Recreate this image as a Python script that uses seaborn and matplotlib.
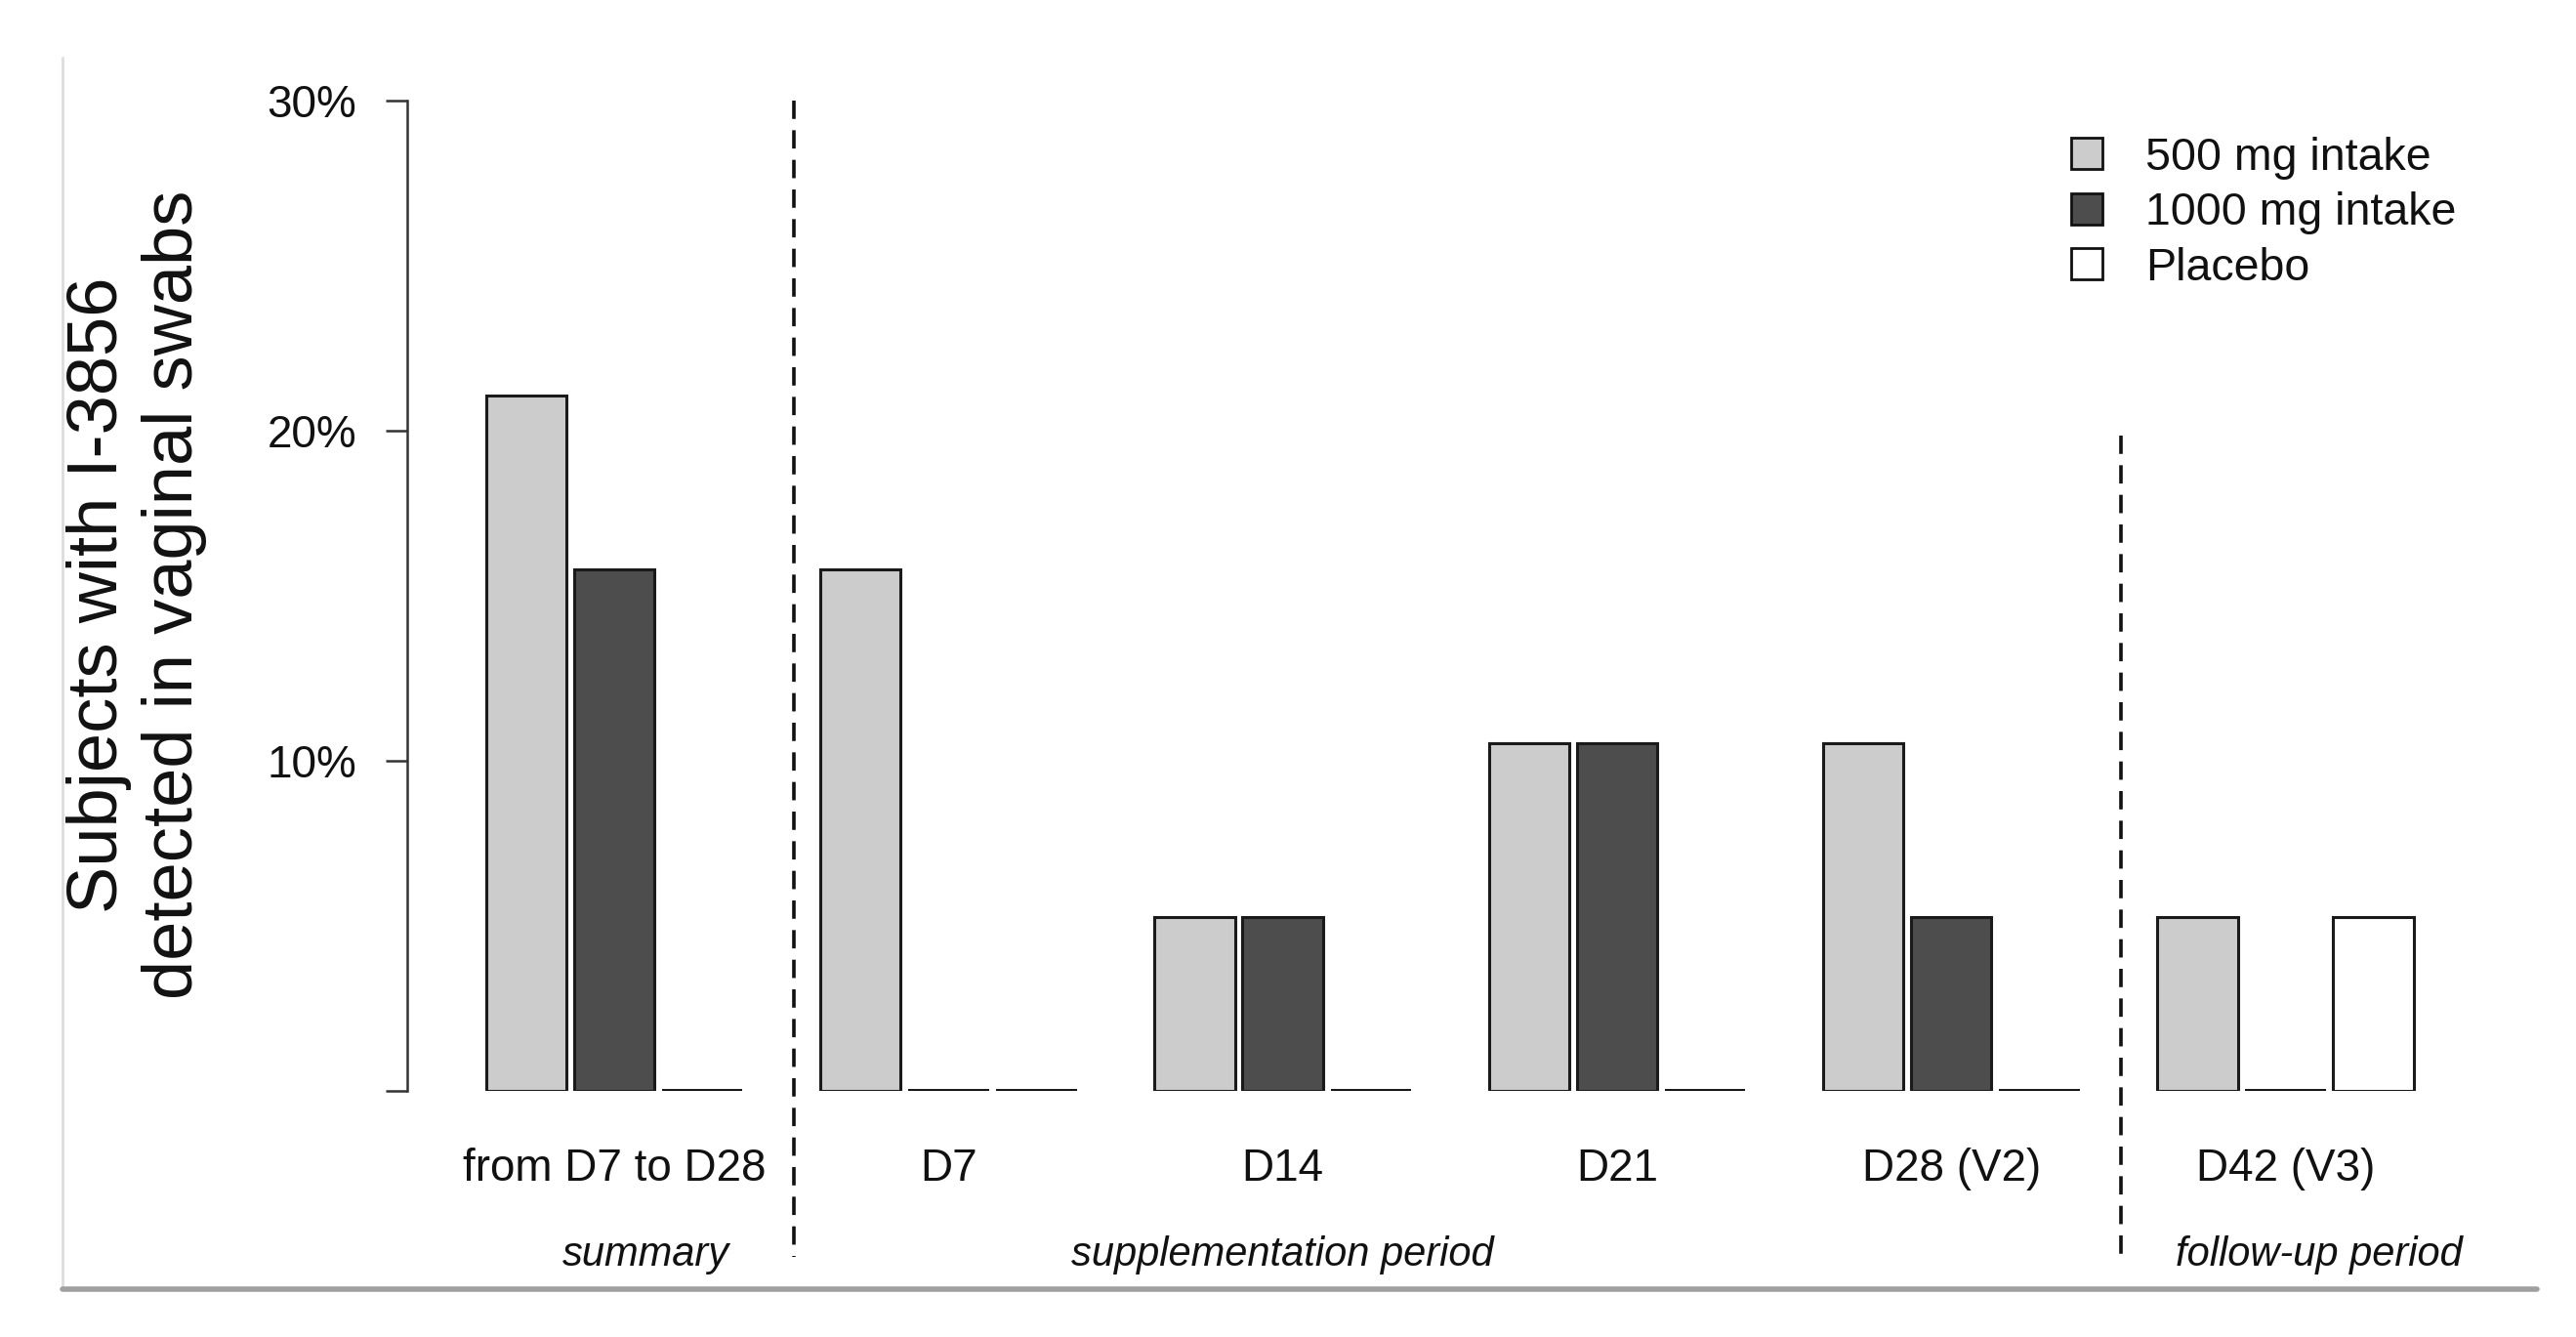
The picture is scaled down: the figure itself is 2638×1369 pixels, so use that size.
import matplotlib
matplotlib.use("Agg")
import matplotlib.pyplot as plt
import matplotlib.transforms as mtransforms
from matplotlib.patches import Patch
from matplotlib.lines import Line2D
import seaborn as sns
import pandas as pd

# ---- data ----
groups = ["from D7 to D28", "D7", "D14", "D21", "D28 (V2)", "D42 (V3)"]
doses = ["500 mg intake", "1000 mg intake", "Placebo"]
val_500 = [21.05, 15.79, 5.26, 10.53, 10.53, 5.26]
val_1000 = [15.79, 0.0, 5.26, 10.53, 5.26, 0.0]
val_placebo = [0.0, 0.0, 0.0, 0.0, 0.0, 5.26]
period_labels = ["summary", "supplementation period", "follow-up period"]
ytick_vals = [0, 10, 20, 30]
ytick_labels = ["", "10%", "20%", "30%"]

colors = {"500 mg intake": "#cccccc", "1000 mg intake": "#4d4d4d", "Placebo": "#ffffff"}

rows = []
for g, a, b, c in zip(groups, val_500, val_1000, val_placebo):
    rows.append((g, doses[0], a))
    rows.append((g, doses[1], b))
    rows.append((g, doses[2], c))
df = pd.DataFrame(rows, columns=["group", "dose", "value"])

sns.set_theme(style="white")
plt.rcParams["font.family"] = ["Liberation Sans", "DejaVu Sans"]

fig = plt.figure(figsize=(26.38, 13.69), dpi=100)
ax = fig.add_axes([0.158, 0.184, 0.8006, 0.741])

sns.barplot(data=df, x="group", y="value", hue="dose", order=groups,
            hue_order=doses, palette=colors, width=0.79, gap=0.085,
            edgecolor="#1a1a1a", linewidth=2.2, errorbar=None,
            legend=False, ax=ax)

# zero-height bars appear as a dark baseline stroke
for p in ax.patches:
    if abs(p.get_height()) < 1e-9:
        p.set_linewidth(2.8)
        p.set_edgecolor("#111111")

ax.set_xlim(-0.62, 5.55)
ax.set_ylim(0, 30)
ax.set_yticks(ytick_vals)
ax.set_yticklabels(ytick_labels)
ax.set_xlabel("")
ax.set_ylabel("")
for s in ["top", "right", "bottom"]:
    ax.spines[s].set_visible(False)
ax.spines["left"].set_color("#333333")
ax.spines["left"].set_linewidth(1.8)
ax.tick_params(axis="y", length=16, width=1.8, color="#333333", pad=21,
               labelsize=33, labelcolor="#111111", left=True)
ax.tick_params(axis="x", length=0, pad=42, labelsize=33, labelcolor="#111111")

# dashed separators
trans = mtransforms.blended_transform_factory(ax.transData, ax.transAxes)
ax.plot([0.536, 0.536], [1.0, -0.1675], transform=trans, clip_on=False,
        color="#111111", lw=2.6, linestyle=(0, (5.2, 3.2)))
ax.plot([4.508, 4.508], [0.662, -0.1675], transform=trans, clip_on=False,
        color="#111111", lw=2.6, linestyle=(0, (5.2, 3.2)))

# period labels
period_x = [0.094, 2.0, 5.1]
for px, lab in zip(period_x, period_labels):
    ax.text(px, -0.166, lab, transform=trans, ha="center", va="center",
            fontsize=30, style="italic", color="#111111")

# y label
fig.text(0.053, 0.555, "Subjects with I-3856\ndetected in vaginal swabs",
         rotation=90, ha="center", va="center", fontsize=52, color="#111111",
         linespacing=1.2)

# legend
handles = [Patch(facecolor=colors[d], edgecolor="#111111", linewidth=2.0) for d in doses]
fig.legend(handles, doses, loc="upper left", bbox_to_anchor=(0.804, 0.898),
           frameon=False, fontsize=33.5, handlelength=0.68, handleheight=0.68,
           handletextpad=0.95, labelspacing=0.27, borderpad=0, borderaxespad=0,
           labelcolor="#111111")

# frame lines of the original image
fig.add_artist(Line2D([0.0243, 0.0243], [0.036, 0.957], transform=fig.transFigure,
                      color="#dddddd", lw=2))
fig.add_artist(Line2D([0.0243, 0.985], [0.036, 0.036], transform=fig.transFigure,
                      color="#a0a0a0", lw=4))

fig.savefig("out.png", dpi=100)
